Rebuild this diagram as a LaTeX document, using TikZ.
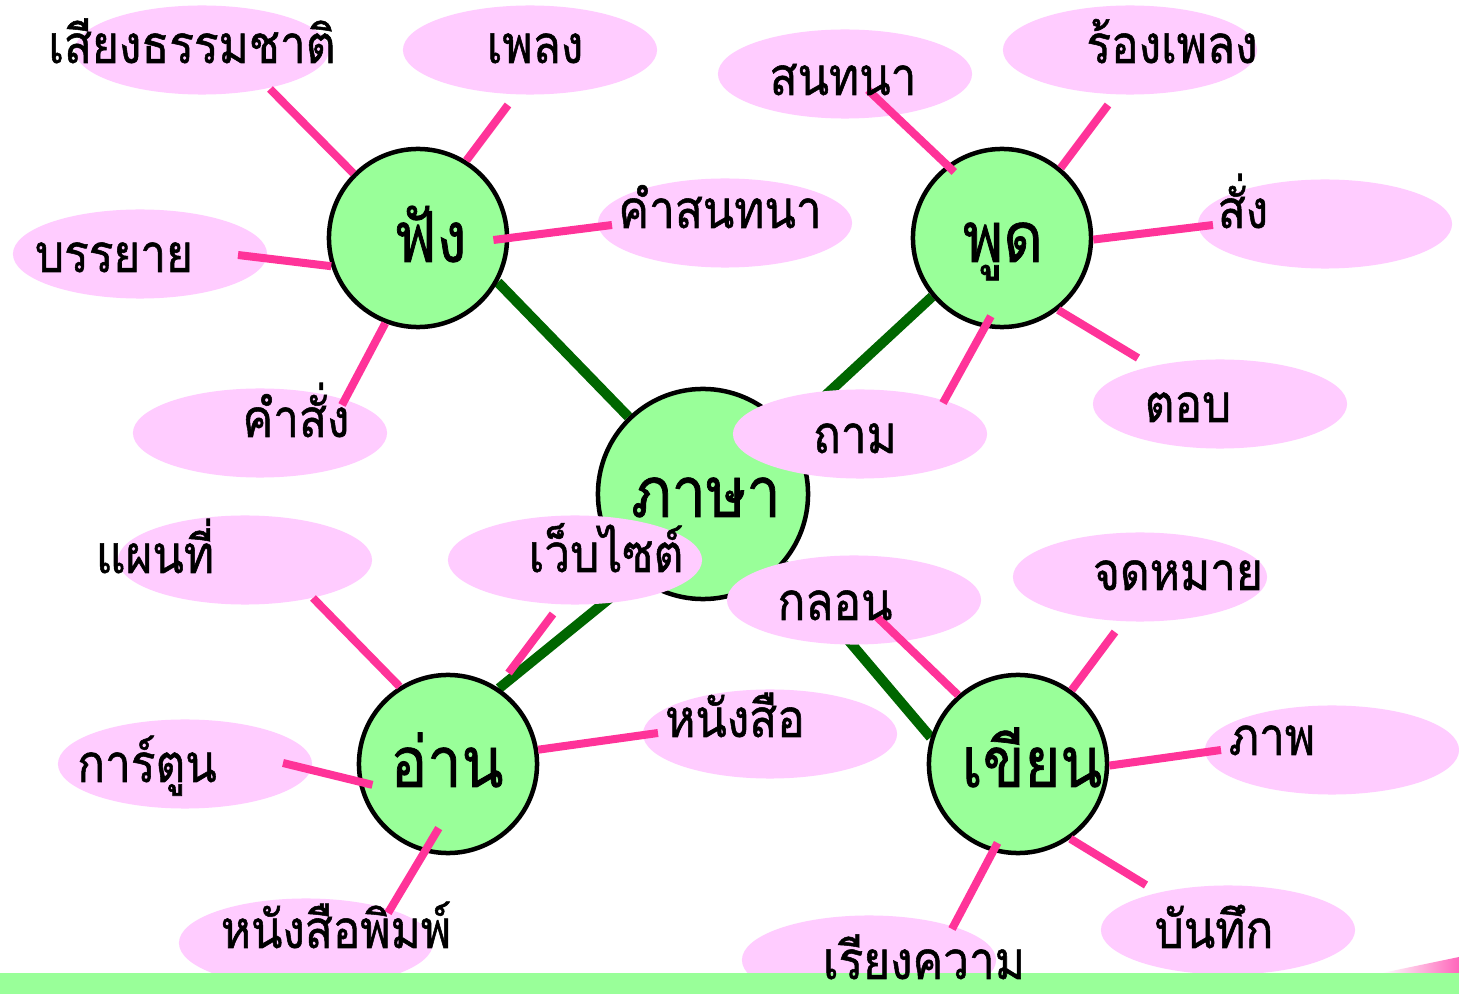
\documentclass[tikz,border=0pt]{standalone}
\usepackage{fontspec}
\newfontfamily\thaifont[Script=Thai,FakeStretch=0.87,FakeBold=1]{Loma}
\usetikzlibrary{shapes.geometric,backgrounds}

\definecolor{circlegreen}{HTML}{99FF99}
\definecolor{ovalpink}{HTML}{FFCCFF}
\definecolor{linepink}{HTML}{FF3399}
\definecolor{darkgreen}{HTML}{006600}

\tikzset{
	topic/.style={circle,draw=black,line width=0.045cm,fill=circlegreen,minimum size=1.78cm,inner sep=0pt},
	oval/.style={ellipse,fill=ovalpink,minimum width=2.54cm,minimum height=0.89cm,inner sep=0pt},
	word/.style={anchor=base,inner sep=0pt,font=\thaifont\fontsize{15}{18}\selectfont},
	bigword/.style={anchor=base,inner sep=0pt,font=\thaifont\fontsize{20}{24}\selectfont},
	twig/.style={linepink,line width=0.08cm},
	branch/.style={darkgreen,line width=0.1cm}
}

\begin{document}
\begin{tikzpicture}[x=0.01cm,y=-0.01cm]
			\useasboundingbox (0,0) rectangle (1459,994);

			% Kreise
			\node[topic] (fang) at (418,238) {};
			\node[topic] (phuut) at (1002,238) {};
			\node[topic,minimum size=2.1cm] (phasa) at (703,494) {};
			\node[topic] (aan) at (448,764) {};
			\node[topic] (khian) at (1018,764) {};

			% Aeste (unter den Kreisen)
			\begin{pgfonlayer}{background}
				\fill[white] (0,0) rectangle (1459,994);
				\draw[branch] (fang.331) -- (phasa.134.5);
				\draw[branch] (phuut.220.5) -- (phasa.37);
				\draw[branch] (aan.56) -- (phasa.231.5);
				\draw[branch] (khian.163.5) -- (phasa.319);
			\end{pgfonlayer}

			% Ovale
			\node[oval] (e-siang) at (202,50) {};
			\node[oval] (e-phleng) at (530,50) {};
			\node[oval] (e-banyai) at (140,254) {};
			\node[oval] (e-khamsonthana) at (725,223) {};
			\node[oval] (e-khamsang) at (260,433) {};
			\node[oval] (e-sonthana) at (845,74) {};
			\node[oval] (e-rongphleng) at (1130,50) {};
			\node[oval] (e-sang) at (1325,224) {};
			\node[oval] (e-top) at (1220,404) {};
			\node[oval] (e-tham) at (860,434) {};
			\node[oval] (e-phaenthi) at (245,560) {};
			\node[oval] (e-website) at (575,560) {};
			\node[oval] (e-klon) at (854,600) {};
			\node[oval] (e-chotmai) at (1140,577) {};
			\node[oval] (e-kartun) at (185,764) {};
			\node[oval] (e-nangsue) at (770,734) {};
			\node[oval] (e-phap) at (1332,750) {};
			\node[oval] (e-nangsuephim) at (306,943) {};
			\node[oval] (e-riangkhwam) at (869,960) {};
			\node[oval] (e-banthuek) at (1228,930) {};

			% Balken unten
			\fill[circlegreen] (0,973) rectangle (1459,994);
			\shade[left color=white,right color={rgb,255:red,255;green,102;blue,187}] (1382,973) -- (1459,957) -- (1459,973) -- cycle;

			% Enden der rosa Linien
			\coordinate (o-siang) at (270,89);
			\coordinate (o-phleng) at (508,105);
			\coordinate (o-banyai) at (238,255);
			\coordinate (o-khamsonthana) at (612,225);
			\coordinate (o-khamsang) at (342,405);
			\coordinate (o-sonthana) at (868,90);
			\coordinate (o-rongphleng) at (1108,105);
			\coordinate (o-sang) at (1213,225);
			\coordinate (o-top) at (1138,358);
			\coordinate (o-tham) at (943,403);
			\coordinate (o-phaenthi) at (313,598);
			\coordinate (o-website) at (553,614);
			\coordinate (o-kartun) at (283,763);
			\coordinate (o-nangsue) at (658,733);
			\coordinate (o-nangsuephim) at (388,913);
			\coordinate (o-klon) at (877,617);
			\coordinate (o-chotmai) at (1115,632);
			\coordinate (o-phap) at (1221,750);
			\coordinate (o-riangkhwam) at (952,929);
			\coordinate (o-banthuek) at (1146,885);

			% rosa Linien
			\draw[twig] (o-siang) -- (fang.135);
			\draw[twig] (o-phleng) -- (fang.58);
			\draw[twig] (o-banyai) -- (fang.198);
			\draw[twig,shorten >=-0.16cm] (o-khamsonthana) -- (fang.0);
			\draw[twig] (o-khamsang) -- (fang.249);
			\draw[twig,shorten >=-0.1cm] (o-sonthana) -- (phuut.127);
			\draw[twig] (o-rongphleng) -- (phuut.50);
			\draw[twig] (o-sang) -- (phuut.359);
			\draw[twig] (o-top) -- (phuut.308);
			\draw[twig,shorten >=-0.13cm] (o-tham) -- (phuut.259);
			\draw[twig] (o-phaenthi) -- (aan.122);
			\draw[twig,shorten >=0.18cm] (o-website) -- (aan.57);
			\draw[twig,shorten >=-0.145cm] (o-kartun) -- (aan.191);
			\draw[twig] (o-nangsue) -- (aan.9);
			\draw[twig,shorten >=-0.28cm] (o-nangsuephim) -- (aan.255);
			\draw[twig] (o-klon) -- (khian.131);
			\draw[twig] (o-chotmai) -- (khian.54);
			\draw[twig] (o-phap) -- (khian.359);
			\draw[twig,shorten >=-0.1cm] (o-riangkhwam) -- (khian.254);
			\draw[twig] (o-banthuek) -- (khian.305);

			% Texte
			\node[bigword] (t-fang) at (430,262) {ฟัง};
			\node[bigword] (t-phuut) at (1003,262) {พูด};
			\node[bigword] (t-phasa) at (706,517) {ภาษา};
			\node[bigword] (t-aan) at (447,787) {อ่าน};
			\node[bigword] (t-khian) at (1032,787) {เขียน};

			\node[word] (t-siang) at (192,63) {เสียงธรรมชาติ};
			\node[word] (t-phleng) at (535,63) {เพลง};
			\node[word] (t-banyai) at (114,272) {บรรยาย};
			\node[word] (t-khamsonthana) at (720,228) {คำสนทนา};
			\node[word] (t-khamsang) at (296,437) {คำสั่ง};
			\node[word] (t-sonthana) at (843,95) {สนทนา};
			\node[word] (t-rongphleng) at (1172,63) {ร้องเพลง};
			\node[word] (t-sang) at (1243,228) {สั่ง};
			\node[word] (t-top) at (1188,422) {ตอบ};
			\node[word] (t-tham) at (855,453) {ถาม};
			\node[word] (t-phaenthi) at (155,573) {แผนที่};
			\node[word] (t-website) at (606,572) {เว็บไซต์};
			\node[word] (t-klon) at (835,620) {กลอน};
			\node[word] (t-chotmai) at (1178,590) {จดหมาย};
			\node[word] (t-kartun) at (147,782) {การ์ตูน};
			\node[word] (t-nangsue) at (735,737) {หนังสือ};
			\node[word] (t-phap) at (1272,755) {ภาพ};
			\node[word] (t-nangsuephim) at (336,948) {หนังสือพิมพ์};
			\node[word] (t-riangkhwam) at (924,979) {เรียงความ};
			\node[word] (t-banthuek) at (1214,948) {บันทึก};
		\end{tikzpicture}
\end{document}
